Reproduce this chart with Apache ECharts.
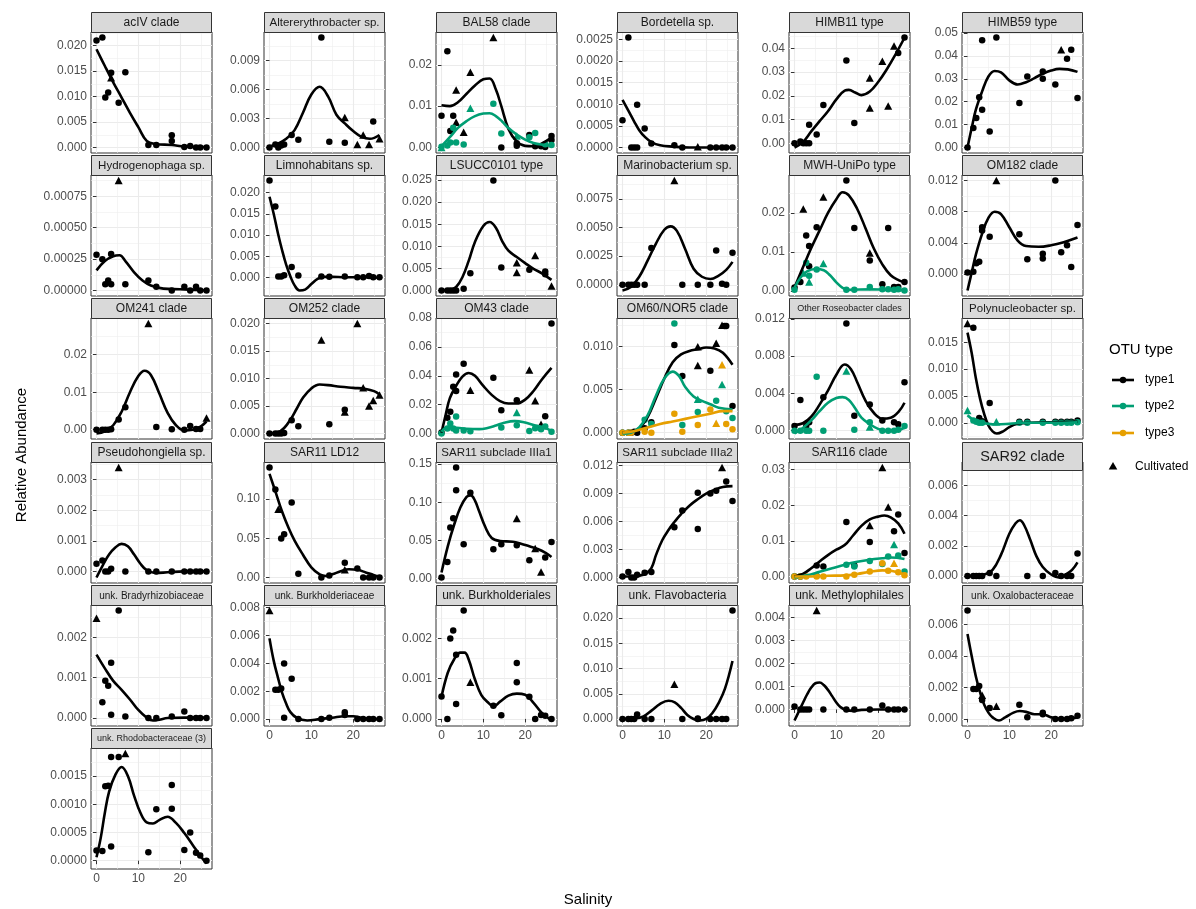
<!DOCTYPE html>
<html><head><meta charset="utf-8">
<script src="https://cdn.jsdelivr.net/npm/echarts@6/dist/echarts.min.js"></script>
<style>html,body{margin:0;padding:0;background:#fff}#c{width:1196px;height:909px}</style>
</head><body><div id="c"></div><script>
// ---------------- DATA ----------------
const FACETS = ['acIV clade','Altererythrobacter sp.','BAL58 clade','Bordetella sp.','HIMB11 type','HIMB59 type',
 'Hydrogenophaga sp.','Limnohabitans sp.','LSUCC0101 type','Marinobacterium sp.','MWH-UniPo type','OM182 clade',
 'OM241 clade','OM252 clade','OM43 clade','OM60/NOR5 clade','Other Roseobacter clades','Polynucleobacter sp.',
 'Pseudohongiella sp.','SAR11 LD12','SAR11 subclade IIIa1','SAR11 subclade IIIa2','SAR116 clade','SAR92 clade',
 'unk. Bradyrhizobiaceae','unk. Burkholderiaceae','unk. Burkholderiales','unk. Flavobacteria','unk. Methylophilales','unk. Oxalobacteraceae',
 'unk. Rhodobacteraceae (3)'];
const Y_STEP = [0.005,0.003,0.01,0.0005,0.01,0.01, 0.00025,0.005,0.005,0.0025,0.01,0.004,
 0.01,0.005,0.02,0.005,0.004,0.005, 0.001,0.05,0.05,0.003,0.01,0.002, 0.001,0.002,0.001,0.005,0.001,0.002, 0.0005];
const X_TICKS = [0,10,20];
const X_MINOR = [5,15,25];
const LEGEND_ITEMS = ['type1','type2','type3'];

// type1 (black) points: circles
const T1_CIRCLES = [
 [[0,0.0210],[1.4,0.0216],[2.1,0.0098],[2.8,0.0108],[3.5,0.0147],[5.3,0.0088],[6.9,0.0148],[12.4,0.0005],[14.3,0.0005],[18.0,0.0024],[18.0,0.0013],[21.0,0.0001],[22.4,0.0003],[23.8,0.0],[24.8,0.0],[26.3,0.0]],
 [[0,0],[1.4,0.0003],[2.1,0.0],[2.8,0.0002],[3.5,0.0003],[5.3,0.0013],[6.9,0.0008],[12.4,0.0114],[14.3,0.0006],[18.0,0.0005],[24.8,0.0027]],
 [[0,0.0077],[1.4,0.0233],[2.1,0.0040],[2.8,0.0077],[14.3,0.0],[18.0,0.0004],[18.0,0.0010],[21.0,0.0030],[22.4,0.0003],[23.8,0.0003],[24.8,0.0001],[26.3,0.0028],[26.3,0.0018]],
 [[0,0.00063],[1.4,0.00254],[2.1,0],[2.8,0],[3.5,0],[3.5,0.00099],[5.3,0.00044],[6.9,0.00009],[12.4,0.00005],[14.3,0],[21.0,0],[22.4,0],[23.8,0],[24.8,0],[26.3,0]],
 [[0,0.0],[1.4,0.0007],[2.1,0],[2.8,0],[3.5,0],[3.5,0.0078],[5.3,0.0037],[6.9,0.0161],[12.4,0.0349],[14.3,0.0085],[24.8,0.0381],[26.3,0.0446]],
 [[0,0],[1.4,0.0085],[2.1,0.0129],[2.8,0.0219],[3.5,0.0165],[3.5,0.0468],[5.3,0.0070],[6.9,0.0480],[12.4,0.0194],[14.3,0.0310],[18.0,0.0300],[18.0,0.0332],[21.0,0.0275],[23.8,0.0387],[24.8,0.0427],[26.3,0.0216]],
 [[0,0.000285],[1.4,0.000248],[2.1,0.00005],[2.8,0.00008],[3.5,0.00029],[3.5,0.00005],[6.9,0.00005],[12.4,0.00008],[14.3,0.00003],[18.0,0],[21.0,0.00003],[22.4,0],[23.8,0.00003],[24.8,0],[26.3,0]],
 [[0,0.0228],[1.4,0.0167],[2.1,0.0003],[2.8,0.0003],[3.5,0.0006],[5.3,0.0025],[6.9,0.0005],[12.4,0.0003],[14.3,0.0002],[18.0,0.0003],[21.0,0.0001],[22.4,0.0001],[23.8,0.0004],[24.8,0.0001],[26.3,0.0001]],
 [[0,0],[1.4,0],[2.1,0],[2.8,0],[3.5,0],[5.3,0.0004],[6.9,0.0039],[12.4,0.0249],[14.3,0.0052],[21.0,0.0047],[24.8,0.0043],[24.8,0.0037]],
 [[0,0],[1.4,0],[2.1,0],[2.8,0],[3.5,0],[5.3,0],[6.9,0.0032],[14.3,0],[18.0,0],[21.0,0],[22.4,0.0030],[23.8,0.0001],[24.8,0],[26.3,0.0028]],
 [[0,0.0009],[1.4,0.0023],[2.8,0.0142],[3.5,0.0115],[3.5,0.0063],[5.3,0.0163],[12.4,0.0283],[14.3,0.0161],[18.0,0.0078],[21.0,0.0017],[22.4,0.0161],[23.8,0.0010],[24.8,0.0010],[26.3,0.0023]],
 [[0,0.0002],[1.4,0.0003],[2.1,0.0014],[2.8,0.0016],[3.5,0.0056],[3.5,0.0060],[5.3,0.0048],[12.4,0.0051],[14.3,0.0019],[18.0,0.0020],[18.0,0.0026],[21.0,0.0120],[22.4,0.0028],[23.8,0.0037],[24.8,0.0009],[26.3,0.0063]],
 [[0,0],[1.4,0],[2.1,0],[2.8,0],[3.5,0.0001],[5.3,0.0027],[6.9,0.0060],[14.3,0.0007],[18.0,0.0001],[21.0,0],[22.4,0.0010],[23.8,0.0002],[24.8,0.0002]],
 [[0,0],[1.4,0],[2.1,0],[2.8,0],[3.5,0.0001],[5.3,0.0024],[6.9,0.0013],[14.3,0.0017],[18.0,0.0043]],
 [[0,0.0007],[1.4,0.0110],[2.1,0.0150],[2.8,0.0324],[3.5,0.0294],[3.5,0.0410],[5.3,0.0483],[12.4,0.0386],[14.3,0.0162],[18.0,0.0231],[24.8,0.0120],[26.3,0.0763]],
 [[0,0],[1.4,0],[2.1,0],[2.8,0.0001],[3.5,0],[5.3,0.0005],[6.9,0.0012],[12.4,0.0102],[14.3,0.0066],[21.0,0.0072],[24.4,0.0124],[24.8,0.0124],[26.3,0.0031]],
 [[0,0.0005],[1.4,0.0033],[2.8,0.0005],[3.5,0.0009],[6.9,0.0036],[12.4,0.0115],[14.3,0.0016],[18.0,0.0028],[21.0,0.0011],[23.8,0.0009],[24.8,0.0007],[26.3,0.0052]],
 [[1.4,0.0177],[2.8,0.0009],[3.5,0.0003],[5.3,0.0037],[12.4,0.0002],[14.3,0.0002],[18.0,0.0002],[21.0,0.0002],[22.4,0.0002],[23.8,0.0002],[24.8,0.0002],[26.3,0.0004]],
 [[0,0.00025],[1.4,0.00036],[2.1,0],[2.8,0],[3.5,0.00009],[6.9,0],[12.4,0],[14.3,0],[18.0,0],[21.0,0],[22.4,0],[23.8,0],[24.8,0],[26.3,0]],
 [[0,0.140],[1.4,0.112],[2.8,0.0496],[3.5,0.055],[5.3,0.0956],[6.9,0.0048],[12.4,0],[14.3,0.0026],[18.0,0.0189],[21.0,0.0114],[22.4,0],[23.8,0],[24.8,0],[26.3,0]],
 [[0,0.001],[1.4,0.0215],[2.1,0.0667],[2.8,0.079],[3.5,0.1456],[3.5,0.1158],[5.3,0.0447],[6.9,0.1123],[12.4,0.038],[14.3,0.0447],[18.0,0.0434],[21.0,0.0237],[24.8,0.0272],[26.3,0.0478]],
 [[0,0.0001],[1.4,0.0006],[2.1,0.0],[2.8,0.0],[3.5,0.0003],[5.3,0.0005],[6.9,0.0006],[12.4,0.0054],[14.3,0.0072],[18.0,0.0091],[18.0,0.0052],[21.0,0.0090],[22.4,0.0093],[24.8,0.0103],[26.3,0.0082]],
 [[0,0],[1.4,0],[5.3,0.0031],[6.9,0.0028],[12.4,0.0153],[14.3,0.0031],[18.0,0.0097],[23.8,0.0127],[24.8,0.0174],[26.3,0.0066]],
 [[0,0],[1.4,0],[2.1,0],[2.8,0],[3.5,0],[5.3,0.0002],[6.9,0],[12.4,0.0072],[14.3,0],[18.0,0],[21.0,0.0002],[22.4,0.0],[23.8,0],[24.8,0],[26.3,0.0015]],
 [[1.4,0.00039],[2.1,0.00092],[2.8,0.0008],[3.5,0.00137],[3.5,0.00008],[5.3,0.00266],[6.9,0.00004],[12.4,0],[14.3,0],[18.0,0.00004],[21.0,0.00016],[22.4,0],[23.8,0],[24.8,0],[26.3,0]],
 [[1.4,0.0021],[2.1,0.0021],[2.8,0.0022],[3.5,0.0040],[3.5,0.0001],[5.3,0.0029],[6.9,0.0],[12.4,0],[14.3,0.0001],[18.0,0.0005],[18.0,0.0003],[21.0,0],[22.4,0],[23.8,0],[24.8,0],[26.3,0]],
 [[0,0.00056],[1.4,0.0],[2.1,0.0020],[2.8,0.0022],[3.5,0.0016],[3.5,0.00037],[5.3,0.0027],[12.4,0.00033],[14.3,0.00009],[18.0,0.00139],[18.0,0.00091],[21.0,0.00055],[22.4,0],[23.8,0.0001],[24.8,0.00008],[26.3,0]],
 [[0,0],[1.4,0],[2.1,0],[2.8,0],[3.5,0.0009],[5.3,0],[6.9,0],[14.3,0],[18.0,0],[18.0,0.0001],[21.0,0],[22.4,0],[23.8,0],[24.8,0],[26.3,0.0215]],
 [[0,0.00013],[1.4,0],[2.1,0],[2.8,0],[3.5,0],[6.9,0],[12.4,0],[14.3,0],[18.0,0],[21.0,0.00017],[22.4,0],[23.8,0],[24.8,0],[26.3,0]],
 [[0,0.0069],[1.4,0.0019],[2.1,0.0019],[2.8,0.0021],[3.5,0.0012],[5.3,0.0007],[12.4,0.0009],[14.3,0.0001],[18.0,0.0004],[18.0,0.0003],[21.0,0],[22.4,0],[23.8,0],[24.8,0.00005],[26.3,0.0002]],
 [[0,0.00018],[1.4,0.00017],[2.1,0.00132],[2.8,0.00133],[3.5,0.00184],[3.5,0.00025],[5.3,0.00184],[12.4,0.00015],[14.3,0.00091],[18.0,0.00134],[18.0,0.00092],[21.0,0.00019],[22.4,0.0005],[23.8,0.00014],[24.8,0.00009],[26.3,0.0]]
];
// type1 (black) cultivated points: triangles
const T1_TRIANGLES = [
 [[3.5,0.0137]],
 [[18.0,0.0031],[21.0,0.0003],[22.4,0.0013],[23.8,0.0003],[26.3,0.0009]],
 [[3.5,0.0139],[3.5,0.0061],[5.3,0.0037],[6.9,0.0182],[12.4,0.0266]],
 [[18.0,0.00002]],
 [[18.0,0.0275],[18.0,0.0149],[21.0,0.0346],[22.4,0.0157],[23.8,0.0410]],
 [[22.4,0.0427]],
 [[5.3,0.000875]],
 [],
 [[18.0,0.0063],[18.0,0.0041],[22.4,0.0079],[26.3,0.0010]],
 [[12.4,0.0091]],
 [[2.1,0.0210],[6.9,0.0241],[18.0,0.0097]],
 [[6.9,0.0120]],
 [[12.4,0.0283],[26.3,0.0031]],
 [[12.4,0.0170],[18.0,0.0039],[21.0,0.0200],[22.4,0.0083],[23.8,0.0050],[24.8,0.0060],[26.3,0.0070]],
 [[6.9,0.0300],[21.0,0.0440],[22.4,0.0227],[23.8,0.0065]],
 [[18.0,0.0100],[18.0,0.0078],[22.4,0.0104],[23.8,0.0125]],
 [],
 [[0,0.0185]],
 [[5.3,0.0034]],
 [[2.1,0.087],[18.0,0.010]],
 [[18.0,0.0785],[22.4,0.039],[23.8,0.0083]],
 [[23.8,0.0118]],
 [[18.0,0.0143],[21.0,0.0306],[22.4,0.0195]],
 [],
 [[0,0.00247]],
 [[0,0.0078]],
 [[6.9,0.00091]],
 [[12.4,0.0069]],
 [[5.3,0.0043]],
 [[3.5,0.0015],[6.9,0.0008]],
 [[6.9,0.0019]]
];
// type1 (black) smooth curves
const T1_CURVE = [
 [[0,0.0193],[2,0.0160],[4,0.0128],[6,0.0098],[8,0.0068],[10,0.0040],[12,0.0013],[14,0.0007],[18,0.0005],[21,0.0002],[26.3,0.0001]],
 [[0,0.0001],[2,0.0004],[4,0.0009],[6,0.0018],[8,0.0036],[10,0.0055],[12,0.0063],[14,0.0053],[16,0.0034],[18,0.0025],[20,0.0017],[22,0.0011],[24,0.0009],[26.3,0.0013]],
 [[0,0.0102],[2,0.0100],[4,0.0110],[6,0.0130],[8,0.0150],[10,0.0165],[11.5,0.0167],[13,0.0140],[14.3,0.0100],[16,0.0045],[18,0.0014],[20,0.0004],[22,0.0003],[24,0.0010],[26.3,0.0024]],
 [[0,0.0011],[1.4,0.00085],[2.8,0.0006],[4,0.0004],[5.3,0.00025],[7,0.00012],[9,0.00005],[12,0.00002],[16,0.0],[20,0.0],[26.3,0.0]],
 [[0,-0.0018],[2,0.0005],[4,0.0050],[6,0.0093],[8,0.0135],[10,0.0185],[12,0.0222],[13,0.0225],[14.5,0.0214],[16,0.0203],[18,0.0218],[20,0.0258],[22,0.0310],[24,0.0370],[26.3,0.0445]],
 [[0,0.0],[1,0.0085],[2,0.0165],[3.5,0.0245],[5,0.0310],[6.5,0.0334],[8,0.0328],[10,0.0293],[12,0.0275],[14,0.0285],[16,0.0303],[18,0.0322],[20,0.0336],[22,0.0343],[24,0.0341],[26.3,0.0330]],
 [[0,0.00016],[2,0.000235],[4,0.000273],[5.5,0.00028],[7,0.00023],[9,0.000145],[11,0.00008],[13,0.00004],[16,0.000015],[20,0.00001],[26.3,0.0]],
 [[0,0.0190],[1,0.0150],[2,0.0105],[3,0.0065],[4,0.0030],[5,0.0003],[6,-0.0018],[7.2,-0.0030],[8.5,-0.0028],[10,-0.0015],[11.5,-0.0003],[13,0.0002],[15,0.0002],[18,0.0001],[22,0.0001],[26.3,0.0]],
 [[0,0.0],[2,0.0001],[3.5,0.0008],[5,0.0030],[6.5,0.0067],[8,0.0110],[10,0.0146],[11.5,0.0155],[13,0.0142],[14.5,0.0112],[16,0.0090],[18,0.0076],[20,0.0062],[22,0.0049],[24,0.0039],[26.3,0.0024]],
 [[0,-0.0005],[2,-0.0002],[4,0.0007],[6,0.0021],[8,0.0036],[10,0.0048],[11.5,0.0051],[13,0.0047],[15,0.0031],[17,0.0014],[19,0.0007],[21,0.0005],[23,0.0008],[24.8,0.0013],[26.3,0.0020]],
 [[0,0.0009],[2,0.0060],[4,0.0110],[6,0.0155],[8,0.0200],[10,0.0235],[11.5,0.0253],[13,0.0245],[15,0.0210],[17,0.0160],[19,0.0108],[21,0.0068],[23,0.0040],[25,0.0027],[26.3,0.0022]],
 [[0,-0.0021],[1,0.0002],[2,0.0025],[3.5,0.0052],[5,0.0072],[6.5,0.0080],[8,0.0077],[10,0.0060],[12,0.0043],[14,0.0036],[17,0.0035],[20,0.0037],[23,0.0041],[26.3,0.0047]],
 [[0,-0.0010],[2,-0.0004],[4,0.0012],[6,0.0048],[8,0.0100],[10,0.0143],[11.5,0.0157],[13,0.0146],[15,0.0097],[17,0.0045],[19,0.0012],[21,-0.0002],[23,0.0000],[24.8,0.0008],[26.3,0.0022]],
 [[0,0.0],[2,0.0002],[3.5,0.0010],[5,0.0025],[6.5,0.0045],[8,0.0065],[10,0.0082],[12,0.0089],[14,0.0088],[17,0.0085],[20,0.0083],[23,0.0081],[25,0.0077],[26.3,0.0071]],
 [[0,0.0005],[1,0.0130],[2,0.0245],[3.5,0.0330],[5,0.0395],[6.5,0.0420],[8,0.0400],[10,0.0330],[12,0.0268],[14,0.0225],[16,0.0208],[18,0.0208],[20,0.0235],[22,0.0295],[24,0.0375],[26.3,0.0455]],
 [[0,0.0],[2,0.0001],[4,0.0005],[6,0.0018],[8,0.0040],[10,0.0063],[12,0.0082],[14,0.0091],[16,0.0095],[18,0.0097],[20,0.0099],[22,0.0098],[24,0.0093],[26.3,0.0079]],
 [[0,0.0006],[2,0.0008],[4,0.0015],[6,0.0028],[8,0.0043],[10,0.0060],[12,0.0071],[13.5,0.0066],[15,0.0052],[17,0.0032],[19,0.0019],[21,0.0013],[23,0.0014],[25,0.0021],[26.3,0.0030]],
 [[0,0.0168],[1,0.0130],[2,0.0083],[3,0.0045],[4,0.0016],[5,-0.0005],[6,-0.0016],[7,-0.0020],[8.5,-0.0016],[10,-0.0008],[12,-0.0002],[15,0.0],[20,0.0001],[26.3,0.0002]],
 [[0,-0.0002],[1.5,0.0002],[3,0.00055],[4.5,0.00078],[6,0.0009],[7.5,0.00082],[9,0.00055],[10.5,0.00025],[12,0.00004],[14,-0.00005],[17,-0.00003],[21,0.0],[26.3,0.0]],
 [[0,0.132],[1.5,0.108],[3,0.084],[4.5,0.064],[6,0.047],[8,0.029],[10,0.013],[12,0.004],[13.5,0.002],[15,0.004],[17,0.008],[19,0.0105],[21,0.0098],[23,0.0065],[25,0.0030],[26.3,0.0012]],
 [[0,0.0075],[1.5,0.042],[3,0.070],[4.5,0.093],[6,0.107],[7,0.109],[8,0.102],[9,0.088],[10.5,0.067],[12,0.053],[14,0.049],[17,0.048],[19,0.0455],[21,0.042],[23,0.0385],[25,0.033],[26.3,0.028]],
 [[0,0.0001],[2,0.0001],[4,0.0002],[5.5,0.0004],[6.9,0.0010],[8,0.0024],[9.5,0.0040],[11,0.0051],[12.5,0.0060],[14,0.0068],[16,0.0077],[18,0.0084],[20,0.0090],[22,0.0094],[24,0.0097],[26.3,0.0098]],
 [[0,0.0],[2,0.0007],[4,0.0023],[6,0.0042],[8,0.0060],[10,0.0075],[12,0.0088],[14,0.0115],[16,0.0142],[18,0.0160],[20,0.0168],[21.5,0.0171],[23,0.0166],[24.8,0.0149],[26.3,0.0120]],
 [[0,0.0],[2,0.0],[4,0.0001],[6,0.0004],[8,0.0014],[10,0.0028],[11.5,0.0035],[12.5,0.0037],[13.5,0.0034],[15,0.0024],[16.5,0.0013],[18,0.0006],[20,0.0001],[22,-0.0001],[23.5,0.0001],[25,0.0004],[26.3,0.0009]],
 [[0,0.00157],[2,0.00123],[4,0.00092],[6,0.00070],[8,0.00046],[10,0.0002],[12,0.00001],[13.5,-0.00006],[15,-0.00004],[17,0.0],[21,0.00001],[26.3,0.00001]],
 [[0,0.0058],[1,0.0042],[2,0.0030],[3,0.0019],[4,0.0011],[5,0.0005],[6.5,0.0001],[9,-0.0001],[12,0.0],[15,0.0001],[18,0.0002],[20,0.0002],[22,0.0001],[24,0.0],[26.3,0.0]],
 [[0,0.00055],[1.5,0.00115],[3,0.00148],[4.5,0.00165],[5.5,0.00165],[6.5,0.00148],[8,0.00098],[9.5,0.0006],[11,0.00042],[12.5,0.00031],[14,0.00043],[16,0.00058],[18,0.00063],[20,0.0006],[22,0.0004],[24,0.00015],[26.3,-0.00004]],
 [[0,0.0],[3,0.0001],[5,0.0005],[7,0.0017],[9,0.0030],[11,0.0036],[12.5,0.0033],[14,0.0022],[15.5,0.0008],[17,0.0],[18.5,-0.0003],[20,0.0],[21.5,0.0012],[23,0.0032],[24.5,0.0060],[26.3,0.0115]],
 [[0,-0.00048],[1,-0.0001],[2,0.00028],[3,0.00065],[4,0.00095],[5,0.00114],[6,0.00117],[7,0.00106],[8,0.00085],[9,0.00058],[10,0.0003],[11,0.0001],[12.5,-0.00004],[14,-0.00006],[16,-0.00002],[20,0.0],[26.3,0.0]],
 [[0,0.0054],[1,0.0040],[2,0.0027],[3,0.0017],[4,0.0009],[5,0.0004],[6,0.0001],[7.5,-0.0001],[9,0.0001],[11,0.0004],[12.5,0.0005],[14,0.00045],[16,0.0003],[18,0.0003],[20,0.0001],[23,0.0],[26.3,0.0001]],
 [[0,0.00006],[1,0.0004],[2,0.00085],[3,0.00122],[4.5,0.00152],[6,0.00166],[7.5,0.0015],[9,0.00115],[10.5,0.00085],[12,0.00068],[13.5,0.00066],[15,0.00072],[17,0.00078],[19,0.00067],[21,0.00049],[23,0.00028],[25,0.00007],[26.3,-0.00005]]
];
// type2 (green), keyed by facet index
const T2_CIRCLES = {
 2: [[0,0.0002],[1.4,0.0005],[2.1,0.0012],[2.8,0.0048],[3.5,0.0012],[5.3,0.0007],[12.4,0.0106],[14.3,0.0034],[21.0,0.0025],[22.4,0.0035],[24.8,0.0008],[26.3,0.0006]],
 10: [[0,0.0003],[2.8,0.0072],[3.5,0.0039],[5.3,0.0055],[12.4,0.0003],[14.3,0.0003],[18.0,0.0010],[21.0,0.0004],[22.4,0.0004],[23.8,0.0003],[24.8,0.0004],[26.3,0.0001]],
 14: [[0,0.0],[1.4,0.0035],[2.1,0.0070],[2.8,0.0035],[3.5,0.0118],[3.5,0.0020],[5.3,0.0020],[6.9,0.0015],[14.3,0.0042],[18.0,0.0058],[21.0,0.0018],[22.4,0.0037],[23.8,0.0030],[24.8,0.0049],[26.3,0.0012]],
 15: [[0,0],[1.4,0],[5.3,0.0015],[6.9,0.0010],[12.4,0.0127],[14.3,0.0009],[18.0,0.0024],[22.4,0.0037],[24.8,0.0025],[26.3,0.0017]],
 16: [[0,0.0],[1.4,0.0],[2.8,0.0],[3.5,0.0],[5.3,0.0058],[6.9,0.0],[14.3,0.0001],[18.0,0.0009],[21.0,0.0],[22.4,0.0],[23.8,0.0],[24.8,0.0001],[26.3,0.0005]],
 17: [[1.4,0.0004],[2.1,0.0002],[2.8,0.0],[3.5,0.0],[12.4,0],[14.3,0],[18.0,0],[21.0,0],[22.4,0],[23.8,0],[24.8,0],[26.3,0.0001]],
 22: [[0,0],[1.4,0],[5.3,0.0002],[12.4,0.0033],[14.3,0.0028],[18.0,0.0043],[21.0,0.0035],[22.4,0.0056],[24.8,0.0059],[26.3,0.0014]]
};
const T2_TRIANGLES = {
 2: [[0,0.0],[6.9,0.0095],[18.0,0.0028]],
 10: [[2.1,0.0046],[3.5,0.0023],[6.9,0.0070]],
 14: [[18.0,0.0145]],
 15: [[18.0,0.0039],[23.8,0.0056]],
 16: [[12.4,0.0064],[18.0,0.0004]],
 17: [[0,0.0023],[6.9,0.0002]],
 22: [[23.8,0.0090]]
};
const T2_CURVE = {
 2: [[0,0.0003],[2,0.0025],[4,0.0048],[6,0.0064],[8,0.0076],[10,0.0082],[11.5,0.0083],[13,0.0076],[14.5,0.0063],[16,0.0047],[18,0.0031],[20,0.0019],[22,0.0011],[24,0.0007],[26.3,0.0005]],
 10: [[0,0.0008],[1.5,0.0035],[3,0.0050],[5,0.0056],[7,0.0053],[8.5,0.0040],[10,0.0022],[11.5,0.0008],[13,0.0003],[18,0.0004],[22,0.0003],[26.3,0.0002]],
 14: [[0,0.0012],[1.5,0.0045],[3,0.0042],[6,0.0033],[9,0.0030],[11,0.0038],[13,0.0055],[15,0.0075],[17.5,0.0086],[20,0.0076],[22.5,0.0055],[24.5,0.0042],[26.3,0.0018]],
 15: [[0,-0.0001],[2,0.0000],[4,0.0006],[6,0.0020],[8,0.0043],[10,0.0063],[12,0.0071],[13.5,0.0066],[15,0.0053],[17,0.0042],[19,0.0037],[21,0.0033],[23,0.0029],[26.3,0.0027]],
 16: [[0,-0.0003],[2,0.0003],[4,0.0011],[6,0.0021],[8,0.0030],[10,0.0035],[11.5,0.0036],[13,0.0033],[14.5,0.0024],[16,0.0014],[18,0.0007],[20,0.0002],[22,0.0000],[24,0.0000],[26.3,0.0003]],
 17: [[0,0.0014],[1.5,0.0005],[3,0.0001],[5,-0.0002],[7,-0.0003],[10,-0.0002],[14,0.0],[20,0.0],[26.3,0.0001]],
 22: [[0,-0.0003],[3,0.0003],[6,0.0013],[9,0.0023],[12,0.0033],[15,0.0041],[18,0.0047],[21,0.0051],[23,0.0053],[26.3,0.0049]]
};
// type3 (orange), keyed by facet index
const T3_CIRCLES = {
 15: [[0,0],[1.4,0],[2.1,0],[5.3,0.0001],[6.9,0.0],[12.4,0.0022],[14.3,0.0001],[18.0,0.0009],[21.0,0.0027],[24.8,0.0010],[26.3,0.0004]],
 22: [[0,0],[1.4,0],[2.8,0],[5.3,0],[6.9,0],[12.4,0],[14.3,0.0005],[18.0,0.0014],[21.0,0.0037],[22.4,0.0016],[24.8,0.0012],[26.3,0.0003]]
};
const T3_TRIANGLES = {
 15: [[22.4,0.0011],[23.8,0.0079]],
 22: [[23.8,0.0037]]
};
const T3_CURVE = {
 15: [[0,0.0],[3,0.0002],[6,0.0006],[9,0.0010],[12,0.0013],[15,0.0016],[18,0.0019],[21,0.0022],[24,0.0025],[26.3,0.0025]],
 22: [[0,0.0],[4,0.0],[8,0.0002],[12,0.0003],[15,0.0007],[18,0.0013],[21,0.0017],[23,0.0016],[25,0.0010],[26.3,0.0005]]
};

// ---------------- LAYOUT / STYLE ----------------
const FONT = '"Liberation Sans", Arial, Helvetica, sans-serif';
const COLORS = ['#000000', '#009E73', '#E69F00'];
const COL_LEFT = [91, 264, 436, 617, 789, 962];
const PANEL_W = 121, PANEL_H = 121, STRIP_H = 20, ROW_TOP0 = 12, ROW_PITCH = 143.2;
const X_MIN = -1.315, X_MAX = 27.615;
const STRIP_FONT = {16: 9, 24: 10, 25: 10, 29: 10, 30: 9, 23: 14.5, 1: 11.5, 6: 11.5, 20: 11.5, 21: 11.5, 17: 11.5};
const STRIP_HEIGHT = {23: 28};

function decimalsOf(step){ const s = String(step); return s.indexOf('.') < 0 ? 0 : s.length - s.indexOf('.') - 1; }
function r10(v){ return +v.toFixed(10); }

const grids = [], xAxes = [], yAxes = [], series = [], graphics = [];

FACETS.forEach((name, i) => {
  const r = Math.floor(i / 6), c = i % 6;
  const stripTop = Math.round(ROW_TOP0 + r * ROW_PITCH);
  const top = stripTop + STRIP_H;
  const left = COL_LEFT[c];
  const isBottom = (i + 6 >= FACETS.length);
  grids.push({left, top, width: PANEL_W, height: PANEL_H, show: true, backgroundColor: '#fff',
    borderColor: '#333333', borderWidth: 1, outerBoundsMode: 'none', containLabel: false});

  const groups = [
    [T1_CIRCLES[i], T1_TRIANGLES[i], T1_CURVE[i]],
    [T2_CIRCLES[i], T2_TRIANGLES[i], T2_CURVE[i]],
    [T3_CIRCLES[i], T3_TRIANGLES[i], T3_CURVE[i]]
  ];
  let lo = Infinity, hi = -Infinity;
  groups.forEach(g => g.forEach(arr => (arr || []).forEach(p => { lo = Math.min(lo, p[1]); hi = Math.max(hi, p[1]); })));
  const span = hi - lo;
  const ymin = lo - 0.05 * span, ymax = hi + 0.05 * span;
  const step = Y_STEP[i], dec = decimalsOf(step);
  const majors = [], minors = [];
  for (let k = Math.ceil(ymin / step - 1e-9); k * step <= ymax + 1e-12; k++) majors.push(r10(k * step));
  for (let k = Math.floor(ymin / step) - 1; (k + 0.5) * step <= ymax; k++) { const v = r10((k + 0.5) * step); if (v >= ymin) minors.push(v); }

  const xi = xAxes.length, yi = yAxes.length;
  xAxes.push({type: 'value', gridIndex: i, min: X_MIN, max: X_MAX, position: 'bottom',
    axisLine: {show: false},
    axisTick: {show: isBottom, customValues: X_TICKS, length: 3.5, lineStyle: {color: '#333333', width: 1}},
    axisLabel: {show: isBottom, customValues: X_TICKS, color: '#4D4D4D', fontSize: 12, margin: 4, fontFamily: FONT},
    splitLine: {show: true, lineStyle: {color: '#EBEBEB', width: 1.1}}});
  xAxes.push({type: 'value', gridIndex: i, min: X_MIN, max: X_MAX, position: 'top',
    axisLine: {show: false}, axisTick: {show: false, customValues: X_MINOR}, axisLabel: {show: false, customValues: X_MINOR},
    splitLine: {show: true, lineStyle: {color: '#EFEFEF', width: 0.6}}});
  yAxes.push({type: 'value', gridIndex: i, min: ymin, max: ymax, position: 'left',
    axisLine: {show: false},
    axisTick: {show: true, customValues: majors, length: 3.5, lineStyle: {color: '#333333', width: 1}},
    axisLabel: {show: true, customValues: majors, color: '#4D4D4D', fontSize: 12, margin: 4, fontFamily: FONT,
      formatter: v => Number(v).toFixed(dec)},
    splitLine: {show: true, lineStyle: {color: '#EBEBEB', width: 1.1}}});
  yAxes.push({type: 'value', gridIndex: i, min: ymin, max: ymax, position: 'right',
    axisLine: {show: false}, axisTick: {show: false, customValues: minors}, axisLabel: {show: false, customValues: minors},
    splitLine: {show: true, lineStyle: {color: '#EFEFEF', width: 0.6}}});

  groups.forEach((g, ti) => {
    const col = COLORS[ti];
    if (g[0] && g[0].length) series.push({type: 'scatter', name: LEGEND_ITEMS[ti], xAxisIndex: xi, yAxisIndex: yi, data: g[0],
      symbol: 'circle', symbolSize: 6.5, itemStyle: {color: col, opacity: 1}, silent: true, z: 3});
    if (g[1] && g[1].length) series.push({type: 'scatter', name: 'Cultivated', xAxisIndex: xi, yAxisIndex: yi, data: g[1],
      symbol: 'triangle', symbolSize: [8, 7.5], itemStyle: {color: col, opacity: 1}, silent: true, z: 3});
  });
  groups.forEach((g, ti) => {
    if (g[2] && g[2].length) series.push({type: 'line', name: LEGEND_ITEMS[ti], xAxisIndex: xi, yAxisIndex: yi, data: g[2],
      smooth: 0.4, showSymbol: false, lineStyle: {color: COLORS[ti], width: 2.6}, itemStyle: {color: COLORS[ti]}, silent: true, z: 4});
  });

  const sh = STRIP_HEIGHT[i] || STRIP_H;
  const fs = STRIP_FONT[i] || 12;
  graphics.push({type: 'rect', z: 100, shape: {x: left + 0.5, y: stripTop + 0.5, width: PANEL_W - 1, height: sh},
    style: {fill: '#D9D9D9', stroke: '#333333', lineWidth: 1}});
  graphics.push({type: 'text', z: 101, x: left + PANEL_W / 2, y: stripTop + sh / 2 + 1,
    style: {text: name, fontSize: fs, fill: '#1A1A1A', align: 'center', verticalAlign: 'middle', fontFamily: FONT}});
});

// axis titles
graphics.push({type: 'text', z: 101, x: 22, y: 455, rotation: Math.PI / 2,
  style: {text: 'Relative Abundance', fontSize: 15, fill: '#000', align: 'center', verticalAlign: 'middle', fontFamily: FONT}});
graphics.push({type: 'text', z: 101, x: 588, y: 900,
  style: {text: 'Salinity', fontSize: 15, fill: '#000', align: 'center', verticalAlign: 'middle', fontFamily: FONT}});

// legend
graphics.push({type: 'text', z: 101, x: 1109, y: 350,
  style: {text: 'OTU type', fontSize: 15, fill: '#000', align: 'left', verticalAlign: 'middle', fontFamily: FONT}});
const LEG_Y = [380, 406, 433];
LEGEND_ITEMS.forEach((t, k) => {
  graphics.push({type: 'line', z: 101, shape: {x1: 1112, y1: LEG_Y[k], x2: 1134, y2: LEG_Y[k]}, style: {stroke: COLORS[k], lineWidth: 2.6}});
  graphics.push({type: 'circle', z: 102, shape: {cx: 1123, cy: LEG_Y[k], r: 3.2}, style: {fill: COLORS[k]}});
  graphics.push({type: 'text', z: 101, x: 1145, y: LEG_Y[k],
    style: {text: t, fontSize: 12, fill: '#000', align: 'left', verticalAlign: 'middle', fontFamily: FONT}});
});
graphics.push({type: 'polygon', z: 101, shape: {points: [[1113, 462], [1117.3, 469.5], [1108.7, 469.5]]}, style: {fill: '#000'}});
graphics.push({type: 'text', z: 101, x: 1135, y: 467,
  style: {text: 'Cultivated', fontSize: 12, fill: '#000', align: 'left', verticalAlign: 'middle', fontFamily: FONT}});

const chart = echarts.init(document.getElementById('c'), null, {renderer: 'canvas'});
chart.setOption({
  animation: false,
  backgroundColor: '#ffffff',
  textStyle: {fontFamily: FONT},
  grid: grids, xAxis: xAxes, yAxis: yAxes, series: series,
  graphic: {elements: graphics}
});
</script></body></html>
